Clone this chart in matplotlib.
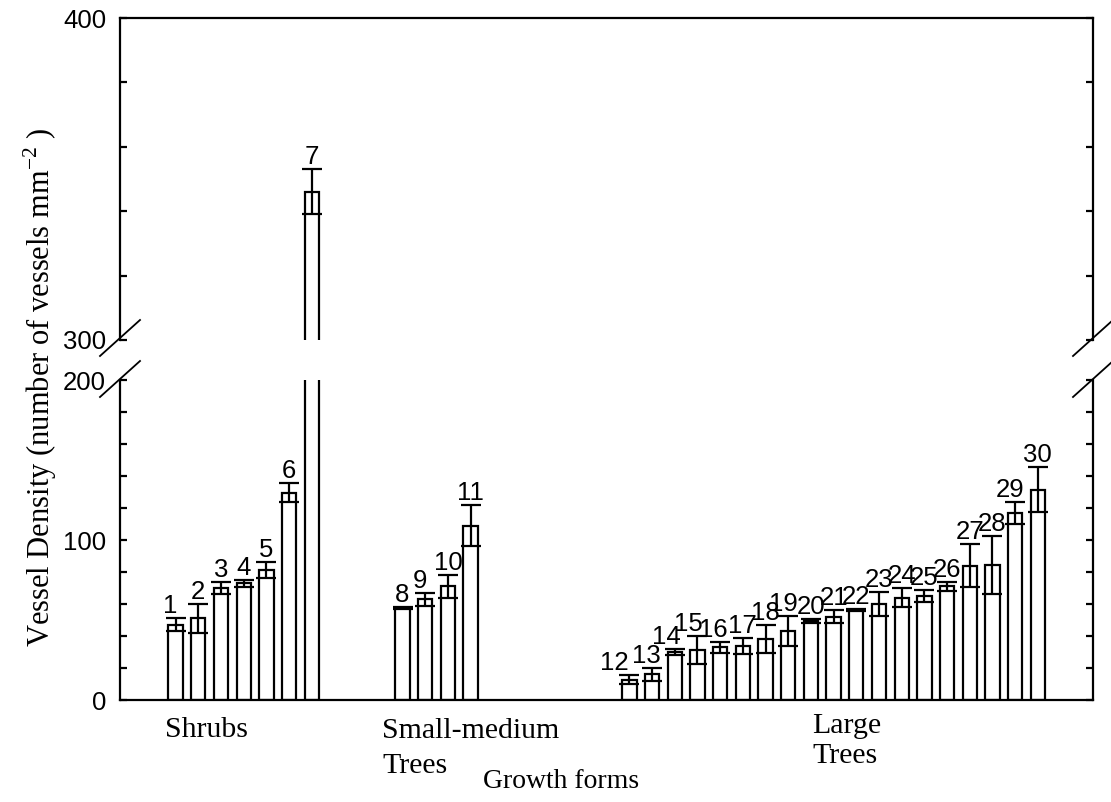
import matplotlib
matplotlib.use("Agg")
import matplotlib.pyplot as plt
from matplotlib.ticker import MultipleLocator, FixedLocator
from matplotlib.lines import Line2D

# Vessel density per species (mean and standard error), grouped by growth form
species_ids = list(range(1, 31))
group_names = ["Shrubs", "Small-medium\nTrees", "Large\nTrees"]
group_sizes = [7, 4, 19]
density_mean = [47, 51, 70, 73, 81, 129.5, 346,
                57.5, 63, 71, 109,
                12.8, 16, 30, 31, 33, 34, 38, 43, 49.5, 52, 56, 60, 64, 65,
                71, 84, 84.5, 117, 131.5]
density_se = [4, 9, 4, 2.3, 5, 6, 7,
              0.6, 4, 7, 13,
              2.8, 4.2, 1.7, 8.8, 3.4, 5, 8.6, 9.4, 1.2, 4, 0.6, 7.6, 6, 4,
              2.6, 13.4, 18.2, 7, 14]

W, H = 1111, 802
fig = plt.figure(figsize=(W / 100, H / 100), dpi=100)
fig.patch.set_facecolor("white")


def fx(px):
    return px / W


def fy(py):
    return 1 - py / H


SANS = "Liberation Sans"
SERIF = "Liberation Serif"
LW = 1.6

left_px, right_px = 120, 1093
ax_top = fig.add_axes([fx(left_px), fy(340), fx(right_px) - fx(left_px), fy(18) - fy(340)])
ax_bot = fig.add_axes([fx(left_px), fy(700), fx(right_px) - fx(left_px), fy(380) - fy(700)])

# bar slots: each group starts after a run of empty slots
group_starts = [0, 10, 20]
xs = []
for start, n in zip(group_starts, group_sizes):
    xs += [start + i for i in range(n)]

for ax in (ax_top, ax_bot):
    ax.bar(xs, density_mean, width=0.63, color="white", edgecolor="black",
           linewidth=LW, zorder=2)
    ax.errorbar(xs, density_mean, yerr=density_se, fmt="none", ecolor="black",
                elinewidth=LW, capsize=7.5, capthick=LW, zorder=3)
    ax.set_xlim(-2.45, 40.43)
    ax.set_xticks([])
    ax.yaxis.set_minor_locator(MultipleLocator(20))
    ax.tick_params(axis="y", which="both", direction="in", left=True, right=True,
                   length=5, width=LW, labelsize=18.5, pad=10)
    for sp in ax.spines.values():
        sp.set_linewidth(LW)
    ax.set_facecolor("none")

ax_top.set_ylim(300, 400)
ax_top.yaxis.set_major_locator(FixedLocator([300, 400]))
ax_top.spines["bottom"].set_visible(False)
ax_bot.set_ylim(0, 200)
ax_bot.yaxis.set_major_locator(FixedLocator([0, 100, 200]))
ax_bot.spines["top"].set_visible(False)
for ax in (ax_top, ax_bot):
    for lab in ax.get_yticklabels():
        lab.set_fontfamily(SANS)

# species numbers above the upper caps (a few nudged sideways, in pixels)
label_nudge = {1: -5, 9: -5, 12: -15, 13: -6, 14: -8, 15: -9, 16: -7, 19: -5, 29: -5}
for sid, x, m, s in zip(species_ids, xs, density_mean, density_se):
    ax = ax_top if m + s > 200 else ax_bot
    ax.annotate(str(sid), xy=(x, m + s),
                xytext=(label_nudge.get(sid, 0) * 0.72, 5 * 0.72),
                textcoords="offset points", ha="center", va="baseline",
                fontsize=18.5, family=SANS, annotation_clip=False, zorder=4)

# axis break marks on both spines
for xc in (left_px, right_px):
    for yc in (338, 379):
        fig.add_artist(Line2D([fx(xc - 20), fx(xc + 20)], [fy(yc + 18), fy(yc - 18)],
                              transform=fig.transFigure, color="black", lw=1.3))

# growth form labels beneath the groups
group_label_pos = [(165, 737, 35), (382, 738, 35), (812, 733, 30)]
for name, (px, base, gap) in zip(group_names, group_label_pos):
    for k, line in enumerate(name.split("\n")):
        fig.text(fx(px), fy(base + k * gap), line, ha="left", va="baseline",
                 family=SERIF, fontsize=21.5)

fig.text(fx(483), fy(788), "Growth forms", ha="left", va="baseline",
         family=SERIF, fontsize=20)
fig.text(fx(40), fy(387), r"Vessel Density (number of vessels mm$^{\mathregular{-2}}$ )",
         rotation=90, ha="center", va="center", family=SERIF, fontsize=22)

fig.savefig("out.png", dpi=100, facecolor="white")
